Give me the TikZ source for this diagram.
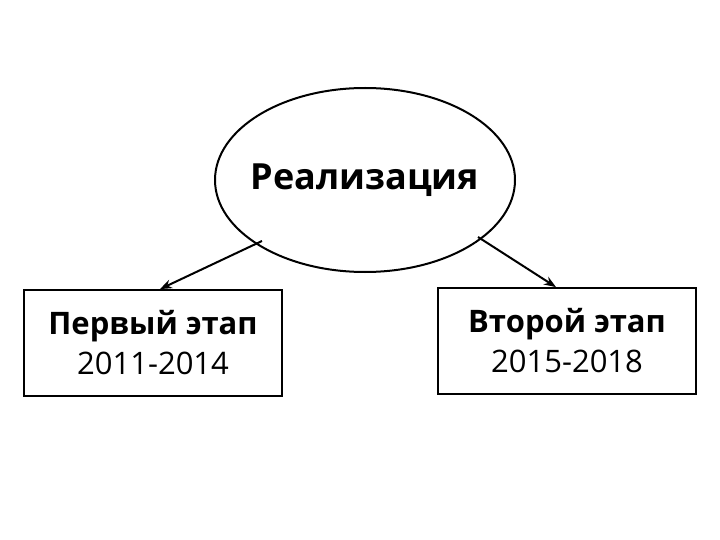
\documentclass[tikz,border=0pt]{standalone}
\usepackage{fontspec}
\setmainfont{Open Sans}
\usetikzlibrary{shapes.geometric,arrows.meta}
\begin{document}
\begin{tikzpicture}[x=1pt,y=-1pt,
  box/.style={draw,line width=1.8pt,minimum width=258pt,minimum height=106pt,align=center,font=\fontsize{31}{40}\selectfont},
  arr/.style={draw,line width=2pt,-{Stealth[length=12pt,width=9pt]}}]
\useasboundingbox (0,0) rectangle (720,540);
\node[ellipse,draw,line width=2pt,minimum width=300pt,minimum height=184pt] (e) at (365,180) {};
\node[font=\fontsize{36}{42}\selectfont\bfseries] (et) at (e.center) {Реализация};
\node[box] (l) at (153,343) {\textbf{Первый этап}\\2011-2014};
\node[box] (r) at (567,341) {\textbf{Второй этап}\\2015-2018};
\coordinate (la) at (262,241);
\coordinate (ra) at (478,237);
\draw[arr] (la) -- (l.north -| 160,0);
\draw[arr] (ra) -- (r.north -| 556,0);
\end{tikzpicture}
\end{document}
